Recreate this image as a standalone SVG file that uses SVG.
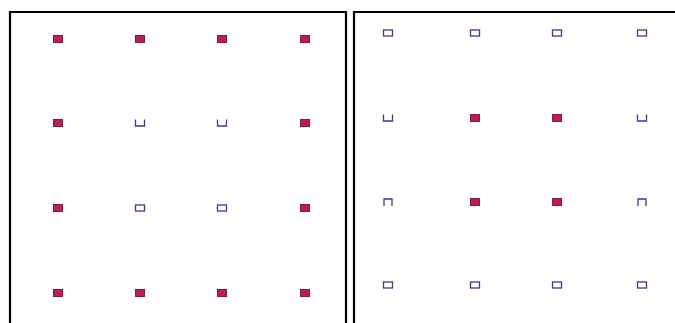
<svg xmlns="http://www.w3.org/2000/svg" width="675" height="323" viewBox="0 0 675 323">
<style>
.frame{fill:none;stroke:#000;stroke-width:2.2}
.f{fill:#c01e4a;stroke:#8c1840;stroke-width:1}
.h{fill:none;stroke:#3a38a0;stroke-width:1.3}
</style>
<defs>
<rect id="fs" class="f" x="-4.5" y="-3.5" width="9" height="7"/>
<rect id="hs" class="h" x="-4.5" y="-3" width="9" height="6"/>
<path id="u" class="h" d="M-4.5,-3.5 V3 H4.5 V-3.5"/>
<path id="n" class="h" d="M-4,4 V-3 H4 V4"/>
</defs>
<rect width="675" height="323" fill="#fff"/>
<g id="frames">
<path class="frame" d="M10,325 V12 H346 V325"/>
<path class="frame" d="M354,325 V12 H680"/>
</g>
<g id="left">
<use href="#fs" x="58" y="39"/><use href="#fs" x="140" y="39"/><use href="#fs" x="222" y="39"/><use href="#fs" x="305" y="39"/>
<use href="#fs" x="58" y="123"/><use href="#u" x="140" y="123"/><use href="#u" x="222" y="123"/><use href="#fs" x="305" y="123"/>
<use href="#fs" x="58" y="208"/><use href="#hs" x="140" y="208"/><use href="#hs" x="222" y="208"/><use href="#fs" x="305" y="208"/>
<use href="#fs" x="58" y="293"/><use href="#fs" x="140" y="293"/><use href="#fs" x="222" y="293"/><use href="#fs" x="305" y="293"/>
</g>
<g id="right">
<use href="#hs" x="388" y="33"/><use href="#hs" x="475" y="33"/><use href="#hs" x="557" y="33"/><use href="#hs" x="642" y="33"/>
<use href="#u" x="388" y="118"/><use href="#fs" x="475" y="118"/><use href="#fs" x="557" y="118"/><use href="#u" x="642" y="118"/>
<use href="#n" x="388" y="202"/><use href="#fs" x="475" y="202"/><use href="#fs" x="557" y="202"/><use href="#n" x="642" y="202"/>
<use href="#hs" x="388" y="285"/><use href="#hs" x="475" y="285"/><use href="#hs" x="557" y="285"/><use href="#hs" x="642" y="285"/>
</g>
</svg>
